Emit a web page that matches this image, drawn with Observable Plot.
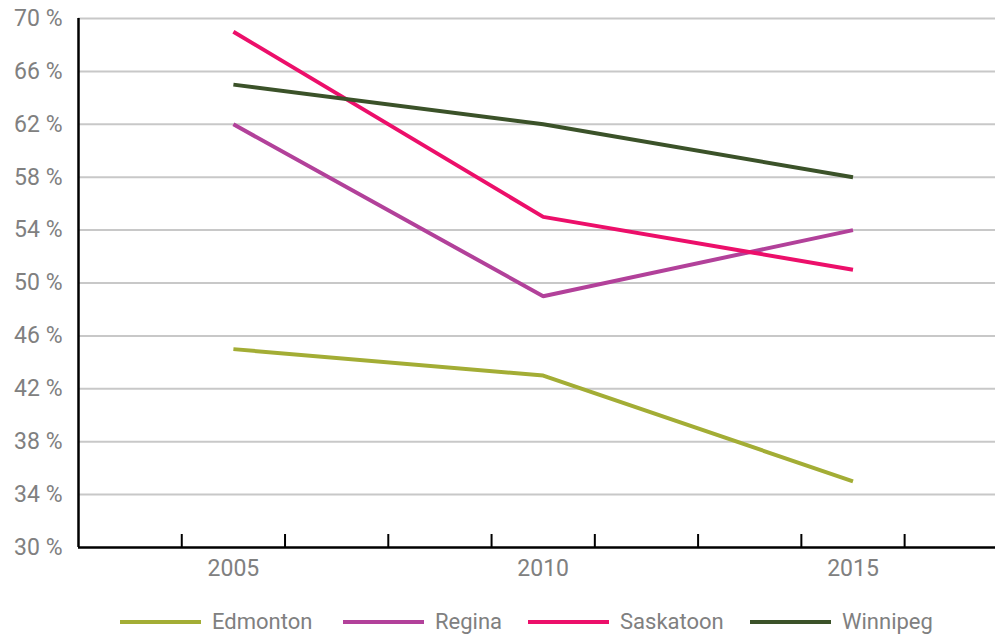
<!DOCTYPE html>
<html>
<head>
<meta charset="utf-8">
<script src="https://cdn.jsdelivr.net/npm/d3@7"></script>
<script src="https://cdn.jsdelivr.net/npm/@observablehq/plot@0.6"></script>
<style>
  html, body { margin: 0; padding: 0; background: #fff; }
  #chart { width: 995px; }
  .legend { position: relative; height: 41px; margin-top: 6px; font-family: Roboto, "Liberation Sans", sans-serif; font-size: 22px; color: #808080; }
  .legend .item { position: absolute; top: 0; height: 41px; display: flex; align-items: center; }
  .legend .sw { width: 81px; height: 4px; margin-right: 11px; }
</style>
</head>
<body>
<div id="chart"></div>
<script>
const years = [2005, 2010, 2015];
const cities = ["Edmonton", "Regina", "Saskatoon", "Winnipeg"];
const colors = ["#a3ad35", "#b2419a", "#ec0f6a", "#3b5229"];
const edmonton = [45, 43, 35];
const regina = [62, 49, 54];
const saskatoon = [69, 55, 51];
const winnipeg = [65, 62, 58];
const yTicks = [30, 34, 38, 42, 46, 50, 54, 58, 62, 66, 70];
const xDomain = [2002.5, 2017.3];
const xTickStep = 5 / 3;

const seriesValues = [edmonton, regina, saskatoon, winnipeg];
const data = [];
cities.forEach((c, i) => years.forEach((y, j) => data.push({city: c, year: y, value: seriesValues[i][j]})));
const xTicks = d3.range(xDomain[0] + xTickStep, xDomain[1], xTickStep);

const H = 595, MT = 18, MB = 48;
const font = "Roboto, 'Liberation Sans', sans-serif";
const plot = Plot.plot({
  width: 995,
  height: H,
  marginLeft: 78,
  marginRight: 0,
  marginTop: MT,
  marginBottom: MB,
  style: {fontFamily: font, fontSize: "23px", color: "#808080", background: "#fff"},
  x: {type: "linear", domain: xDomain, axis: null},
  y: {type: "linear", domain: [30, 70], axis: null},
  color: {domain: cities, range: colors},
  marks: [
    Plot.ruleY(yTicks.filter(d => d > 30), {stroke: "#c8c8c8", strokeWidth: 2}),
    Plot.lineY(data, {x: "year", y: "value", stroke: "city", strokeWidth: 4, strokeLinecap: "butt", strokeLinejoin: "miter"}),
    Plot.ruleX([xDomain[0]], {stroke: "#000", strokeWidth: 2.5}),
    Plot.ruleY([30], {stroke: "#000", strokeWidth: 2.5}),
    Plot.tickX(xTicks, {x: d => d, stroke: "#000", strokeWidth: 2, insetTop: H - MT - MB - 13}),
    Plot.text(yTicks, {x: xDomain[0], y: d => d, text: d => `${d} %`, textAnchor: "end", dx: -16, fill: "#808080", fontSize: 23}),
    Plot.text(years, {x: d => d, y: 30, text: d => String(d), dy: 21, fill: "#808080", fontSize: 23})
  ]
});
document.getElementById("chart").appendChild(plot);

const legend = document.createElement("div");
legend.className = "legend";
const lefts = [120, 343, 528, 750];
cities.forEach((c, i) => {
  const it = document.createElement("div");
  it.className = "item";
  it.style.left = lefts[i] + "px";
  const sw = document.createElement("span");
  sw.className = "sw";
  sw.style.background = colors[i];
  const t = document.createElement("span");
  t.textContent = c;
  it.appendChild(sw); it.appendChild(t);
  legend.appendChild(it);
});
document.body.appendChild(legend);
</script>
</body>
</html>
